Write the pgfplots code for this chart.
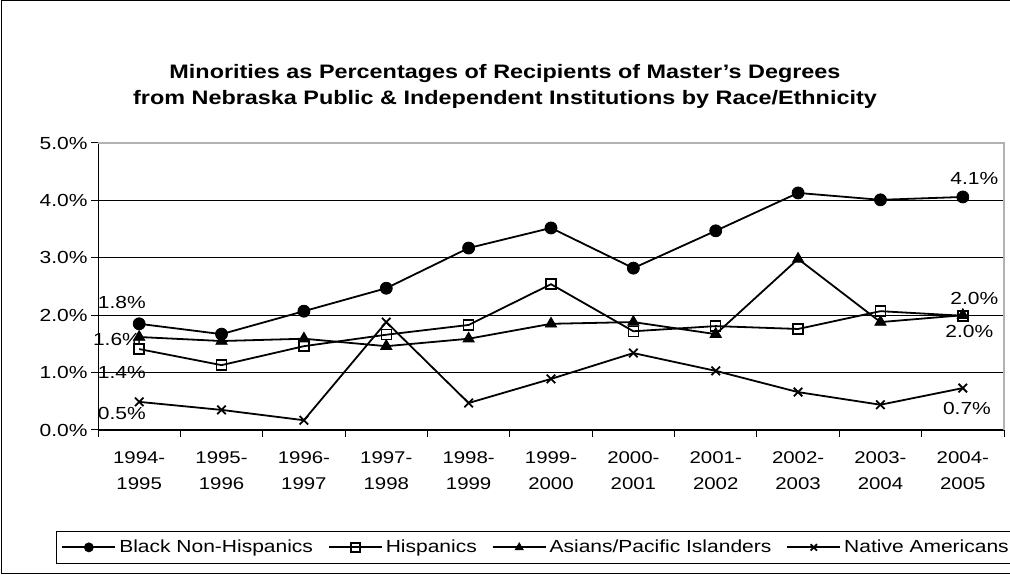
\documentclass[border=0pt]{standalone}
\usepackage{pgfplots}
\pgfplotsset{compat=1.18}
\usepackage{fontspec}
\setmainfont{Liberation Sans}[FakeStretch=1.2]
\begin{document}
\begin{tikzpicture}
\useasboundingbox (0pt,0pt) rectangle (1010pt,575pt);
\clip (0pt,0pt) rectangle (1010pt,575pt);
\draw[black,line width=1pt] (1.5pt,1pt) rectangle (1040pt,574pt);
\node[font=\fontsize{19.5}{26}\selectfont\bfseries,align=center] at (505pt,489pt) {Minorities as Percentages of Recipients of Master's Degrees\\from Nebraska Public \& Independent Institutions by Race/Ethnicity};
\begin{axis}[
  at={(98pt,145pt)}, anchor=south west,
  scale only axis, width=906pt, height=287pt,
  xmin=-0.5, xmax=10.5, ymin=0, ymax=5,
  axis x line*=bottom, axis y line*=left,
  axis line style={black, line width=1pt},
  clip=false,
  xtick={0,...,10},
  xticklabels={{1994-\\1995},{1995-\\1996},{1996-\\1997},{1997-\\1998},{1998-\\1999},{1999-\\2000},{2000-\\2001},{2001-\\2002},{2002-\\2003},{2003-\\2004},{2004-\\2005}},
  xticklabel style={align=center, font=\fontsize{17}{26}\selectfont, yshift=-11pt},
  minor xtick={-0.5,0.5,...,10.5},
  major x tick style={draw=none},
  minor tick length=7pt,
  minor x tick style={black, line width=1pt},
  xtick pos=bottom, ytick pos=left,
  tick align=outside,
  ytick={0,1,2,3,4,5},
  yticklabels={0.0\%,1.0\%,2.0\%,3.0\%,4.0\%,5.0\%},
  yticklabel style={font=\fontsize{17.5}{20}\selectfont},
  major tick length=7pt,
  major y tick style={black, line width=1pt},
  ymajorgrids, grid style={black, line width=0.7pt},
  legend columns=4,
  legend style={at={(-0.0464,-0.409)}, anchor=west, draw=black, line width=1pt,
    font=\fontsize{17.5}{21}\selectfont, inner xsep=5pt, inner ysep=6pt,
    nodes={inner sep=3pt},
    /tikz/every even column/.append style={column sep=12pt}},
  legend image code/.code={\draw[#1,mark repeat=2,mark phase=2,mark size=4.5pt] plot coordinates {(0pt,0pt) (26.5pt,0pt) (53pt,0pt)};},
  every axis plot/.append style={black, line width=1.8pt},
]
\addplot[mark=*, mark size=6pt, mark options={solid, fill=black, line width=0.8pt}] coordinates {
(0,1.85) (1,1.67) (2,2.07) (3,2.47) (4,3.17) (5,3.52) (6,2.82) (7,3.47) (8,4.13) (9,4.01) (10,4.06)};
\addlegendentry{Black Non-Hispanics}
\addplot[mark=square, mark size=5pt, mark options={solid, fill=white, line width=1.5pt}] coordinates {
(0,1.41) (1,1.13) (2,1.46) (3,1.66) (4,1.83) (5,2.54) (6,1.72) (7,1.81) (8,1.76) (9,2.07) (10,1.99)};
\addlegendentry{Hispanics}
\addplot[mark=triangle*, mark size=6.5pt, mark options={solid, fill=black, line width=0.8pt}] coordinates {
(0,1.62) (1,1.55) (2,1.59) (3,1.46) (4,1.59) (5,1.85) (6,1.88) (7,1.67) (8,2.98) (9,1.88) (10,2.00)};
\addlegendentry{Asians/Pacific Islanders}
\addplot[mark=x, mark size=6pt, mark options={solid, line width=1.8pt}] coordinates {
(0,0.49) (1,0.35) (2,0.17) (3,1.88) (4,0.47) (5,0.89) (6,1.34) (7,1.03) (8,0.66) (9,0.44) (10,0.73)};
\addlegendentry{Native Americans}
\draw[gray!60, line width=2pt] (axis cs:-0.5,5) -- (axis cs:10.5,5) -- (axis cs:10.5,0);
\begin{scope}[every node/.style={font=\fontsize{17.5}{20}\selectfont, inner sep=0pt}]
\node at (axis cs:-0.21,2.23) {1.8\%};
\node at (axis cs:-0.27,1.57) {1.6\%};
\node at (axis cs:-0.21,1.01) {1.4\%};
\node at (axis cs:-0.21,0.28) {0.5\%};
\node at (axis cs:10.14,4.39) {4.1\%};
\node at (axis cs:10.14,2.30) {2.0\%};
\node at (axis cs:10.08,1.71) {2.0\%};
\node at (axis cs:10.05,0.38) {0.7\%};
\end{scope}
\end{axis}
\end{tikzpicture}
\end{document}
